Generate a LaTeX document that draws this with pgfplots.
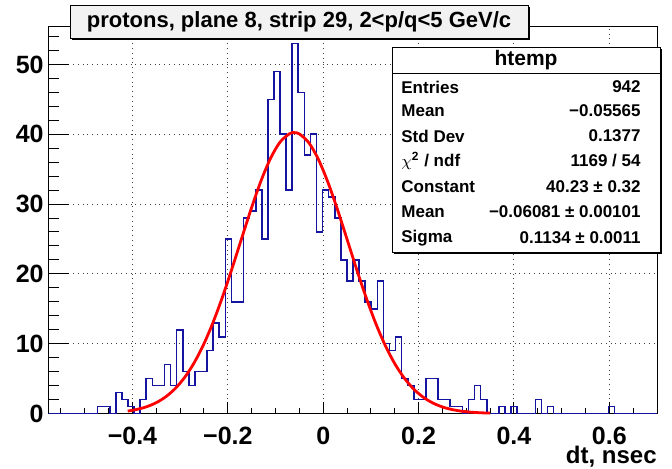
\documentclass[border=0pt]{standalone}
\usepackage{fontspec}
\setmainfont{Liberation Sans}
\usepackage{pgfplots}
\pgfplotsset{compat=1.18}
\definecolor{histblue}{RGB}{20,20,160}
\definecolor{titlegray}{RGB}{242,242,242}
\newcommand{\tl}{\fontsize{12.5}{14}\selectfont\bfseries}
\newcommand{\st}{\fontsize{8.5}{10}\selectfont\bfseries}
\pgfplotstableread{
x y
-0.575 0
-0.56225 0
-0.5495 0
-0.53675 0
-0.524 0
-0.51125 0
-0.4985 0
-0.48575 0
-0.473 1
-0.46025 1
-0.4475 0
-0.43475 3
-0.422 2
-0.40925 1
-0.3965 0
-0.38375 2
-0.371 5
-0.35825 4
-0.3455 4
-0.33275 7
-0.32 4
-0.30725 12
-0.2945 6
-0.28175 4
-0.269 6
-0.25625 6
-0.2435 9
-0.23075 13
-0.218 11
-0.20525 25
-0.1925 16
-0.17975 16
-0.167 28
-0.15425 29
-0.1415 32
-0.12875 25
-0.116 45
-0.10325 49
-0.0905 40
-0.07775 32
-0.065 53
-0.05225 46
-0.0395 37
-0.02675 40
-0.014 26
-0.00125 32
0.0115 31
0.02425 28
0.037 22
0.04975 19
0.0625 22
0.07525 19
0.088 16
0.10075 15
0.1135 19
0.12625 10
0.139 9
0.15175 11
0.1645 5
0.17725 4
0.19 2
0.20275 2
0.2155 5
0.22825 5
0.241 2
0.25375 2
0.2665 1
0.27925 1
0.292 0
0.30475 2
0.3175 4
0.33025 2
0.343 0
0.35575 0
0.3685 1
0.38125 0
0.394 1
0.40675 0
0.4195 0
0.43225 0
0.445 2
0.45775 0
0.4705 1
0.48325 0
0.496 0
0.50875 0
0.5215 0
0.53425 0
0.547 0
0.55975 0
0.5725 0
0.58525 0
0.598 1
0.61075 0
0.6235 0
0.63625 0
0.649 0
0.66175 0
0.6745 0
0.68725 0
0.7 0
}\histdata
\begin{document}
\begin{tikzpicture}
\path[use as bounding box] (-24.5pt,-27.25pt) rectangle (311.5pt,206.75pt);
% axis A: frame, grid, y ticks
\begin{axis}[
  scale only axis, width=304pt, height=193.4pt,
  xmin=-0.575, xmax=0.7, ymin=0, ymax=55.4,
  axis line style={line width=0.5pt},
  xtick={-0.4,-0.2,0,0.2,0.4,0.6}, xticklabels={},
  x tick style={draw=none},
  ytick={0,10,20,30,40,50}, yticklabels={0,10,20,30,40,50},
  minor ytick={2,4,6,8,12,14,16,18,22,24,26,28,32,34,36,38,42,44,46,48,52,54},
  tick pos=left, tick align=inside,
  major tick length=10pt, minor tick length=5pt,
  y tick style={line width=0.5pt, black},
  grid=major, major grid style={dotted, black!75, line width=0.5pt},
  yticklabel style={font=\tl, anchor=east, inner sep=0pt, xshift=-2.5pt},
]
\addplot[draw=none] coordinates {(0,0)};
\end{axis}
% axis B: x ticks, histogram, fit
\begin{axis}[
  scale only axis, width=304pt, height=193.4pt,
  xmin=-0.575, xmax=0.7, ymin=0, ymax=55.4,
  axis line style={line width=0.5pt},
  xtick={-0.4,-0.2,0,0.2,0.4,0.6},
  xticklabels={−0.4,−0.2,0,0.2,0.4,0.6},
  minor xtick={-0.55,-0.5,-0.45,-0.35,-0.3,-0.25,-0.15,-0.1,-0.05,0.05,0.1,0.15,0.25,0.3,0.35,0.45,0.5,0.55,0.65,0.7},
  ytick=\empty,
  tick pos=left, tick align=inside,
  major tick length=5.8pt, minor tick length=3pt,
  x tick style={line width=0.5pt, black},
  xticklabel style={font=\tl, anchor=north, inner sep=0pt, yshift=-6.5pt},
  clip=false,
]
\addplot[histblue, line width=0.8pt, const plot mark left] table[x=x,y=y] {\histdata};
\addplot[red, line width=1.4pt, smooth] coordinates {
(-0.41,0.351) (-0.39,0.595) (-0.37,0.978) (-0.35,1.557) (-0.33,2.404)
(-0.31,3.598) (-0.29,5.219) (-0.27,7.339) (-0.25,10.004) (-0.23,13.219)
(-0.21,16.932) (-0.19,21.024) (-0.17,25.305) (-0.15,29.528) (-0.13,33.397)
(-0.11,36.618) (-0.09,38.919) (-0.07,40.098) (-0.06081,40.23) (-0.05,40.048)
(-0.03,38.772) (-0.01,36.388) (0.01,33.104) (0.03,29.195) (0.05,24.957)
(0.07,20.683) (0.09,16.615) (0.11,12.938) (0.13,9.766) (0.15,7.146)
(0.17,5.070) (0.19,3.486) (0.21,2.324) (0.23,1.502) (0.25,0.940)
(0.27,0.571) (0.29,0.336) (0.31,0.192) (0.33,0.106) (0.35,0.057)};
\node[anchor=north east, inner sep=0pt, font=\fontsize{12}{14}\selectfont\bfseries, yshift=-16.2pt] at (rel axis cs:1,0) {dt, nsec};
\end{axis}
% title box
\fill[black] (11.7pt,186.55pt) rectangle (240.7pt,203.05pt);
\draw[fill=titlegray, line width=0.5pt] (10.5pt,187.75pt) rectangle (239.5pt,204.25pt);
\node[font=\fontsize{11}{13}\selectfont\bfseries, inner sep=0pt] at (125pt,196pt) {protons, plane 8, strip 29, 2<p/q<5 GeV/c};
% stats box
\fill[black] (172.7pt,79.55pt) rectangle (306.7pt,182.05pt);
\draw[fill=white, line width=0.5pt] (171.5pt,80.75pt) rectangle (305.5pt,183.25pt);
\draw[line width=0.5pt] (171.5pt,170.25pt) -- (305.5pt,170.25pt);
\node[font=\fontsize{10.5}{12}\selectfont\bfseries, inner sep=0pt] at (238.5pt,176.75pt) {htemp};
\begin{scope}[every node/.style={font=\st, inner sep=0pt}]
\node[anchor=west] at (176pt,163.25pt) {Entries};
\node[anchor=east] at (296pt,163.25pt) {942};
\node[anchor=west] at (176pt,151.25pt) {Mean};
\node[anchor=east] at (296pt,151.25pt) {−0.05565};
\node[anchor=west] at (176pt,138.75pt) {Std Dev};
\node[anchor=east] at (296pt,138.75pt) {0.1377};
\node[anchor=west] at (176pt,126.25pt) {$\chi$\textsuperscript{2} / ndf};
\node[anchor=east] at (296pt,126.25pt) {1169 / 54};
\node[anchor=west] at (176pt,113.25pt) {Constant};
\node[anchor=east] at (296pt,113.25pt) {40.23 ± 0.32};
\node[anchor=west] at (176pt,100.75pt) {Mean};
\node[anchor=east] at (296pt,100.75pt) {−0.06081 ± 0.00101};
\node[anchor=west] at (176pt,87.75pt) {Sigma};
\node[anchor=east] at (296pt,87.75pt) {0.1134 ± 0.0011};
\end{scope}
\end{tikzpicture}
\end{document}
